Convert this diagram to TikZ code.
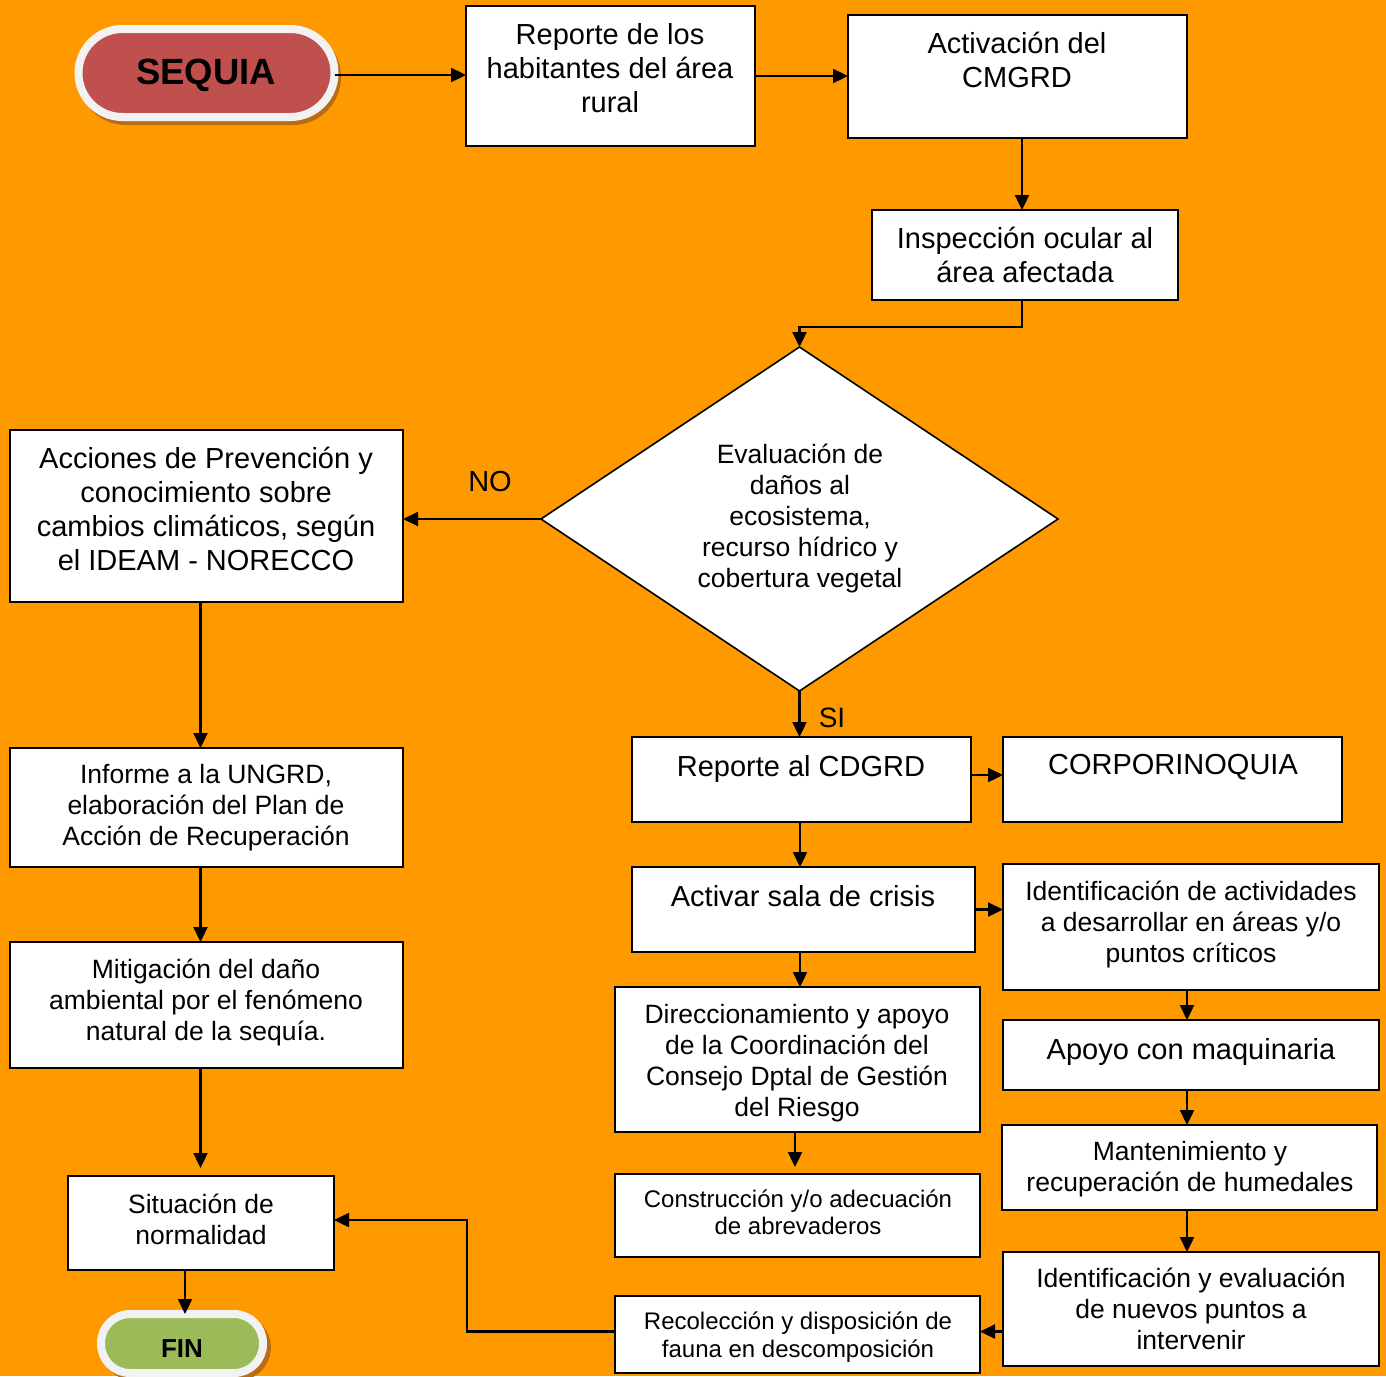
\documentclass[tikz,border=0pt]{standalone}
\usepackage{fontspec}
\setmainfont{Liberation Sans}
\usetikzlibrary{arrows.meta,calc,shapes.geometric}
\definecolor{bgor}{RGB}{255,153,0}
\definecolor{seqred}{RGB}{192,80,77}
\definecolor{fingreen}{RGB}{155,187,89}
\definecolor{termwhite}{RGB}{242,242,242}
\definecolor{shbrown}{RGB}{186,108,20}
\begin{document}
\begin{tikzpicture}[x=1pt,y=-1pt,
  box/.style={draw=black, fill=white, line width=1.6pt, inner sep=0pt, outer sep=0pt, anchor=north west},
  term/.style={draw=termwhite, line width=8pt, inner sep=0pt, outer sep=0pt},
  txtA/.style={font=\fontsize{29}{34}\selectfont, align=center, inner sep=0pt},
  txtB/.style={font=\fontsize{26.5}{31}\selectfont, align=center, inner sep=0pt},
  txtC/.style={font=\fontsize{24}{27.5}\selectfont, align=center, inner sep=0pt},
  arr/.style={line width=2.3pt, -{Triangle[length=15pt,width=14pt]}}]
\fill[bgor] (0,0) rectangle (1386,1376);
\useasboundingbox (0,0) rectangle (1386,1376);

% terminals
\fill[shbrown, rounded corners=48pt] (78,29) rectangle (341,125);
\node[term, fill=seqred, minimum width=256pt, minimum height=88pt, rounded corners=44pt] (seq) at (206.5,73) {};
\node[font=\bfseries\fontsize{36.5}{40}\selectfont, inner sep=0pt] (seqt) at (206,75.5) {SEQUIA};

\fill[shbrown, rounded corners=34pt] (101,1314) rectangle (271,1381);
\node[term, fill=fingreen, minimum width=162pt, minimum height=59pt, rounded corners=29pt] (fin) at (182,1343.5) {};
\node[font=\bfseries\fontsize{26}{30}\selectfont, inner sep=0pt] (fint) at (182,1348.5) {FIN};

% boxes
\node[box, minimum width=289pt, minimum height=140pt] (rep) at (466,6) {};
\node[box, minimum width=339pt, minimum height=123pt] (act) at (848,15) {};
\node[box, minimum width=306pt, minimum height=90pt] (ins) at (872,210) {};
\node[box, minimum width=393pt, minimum height=172pt] (acc) at (10,430) {};
\node[box, minimum width=393pt, minimum height=119pt] (inf) at (10,748) {};
\node[box, minimum width=393pt, minimum height=126pt] (mit) at (10,942) {};
\node[box, minimum width=266pt, minimum height=94pt] (sit) at (68,1176) {};
\node[box, minimum width=339pt, minimum height=85pt] (cdg) at (632,737) {};
\node[box, minimum width=339pt, minimum height=85pt] (cor) at (1003,737) {};
\node[box, minimum width=343pt, minimum height=85pt] (sal) at (632,867) {};
\node[box, minimum width=376pt, minimum height=126pt] (ida) at (1003,864) {};
\node[box, minimum width=365pt, minimum height=145pt] (dir) at (615,987) {};
\node[box, minimum width=376pt, minimum height=70pt] (apo) at (1003,1020) {};
\node[box, minimum width=365pt, minimum height=83pt] (con) at (615,1174) {};
\node[box, minimum width=375pt, minimum height=85pt] (man) at (1002,1125) {};
\node[box, minimum width=365pt, minimum height=77pt] (rec) at (615,1296) {};
\node[box, minimum width=376pt, minimum height=114pt] (ide) at (1003,1252) {};
\node[draw=black, fill=white, line width=1.6pt, diamond, inner sep=0pt, outer sep=0pt, minimum width=517pt, minimum height=344pt] (dia) at (799.5,519) {};

% texts
\node[txtA] (repT) at (610,68) {Reporte de los\\habitantes del área\\rural};
\node[txtA] (actT) at (1017,60) {Activación del\\CMGRD};
\node[txtA] (insT) at (1025,254.5) {Inspección ocular al\\área afectada};
\node[txtB] (diaT) at (800,518) {Evaluación de\\daños al\\ecosistema,\\recurso hídrico y\\cobertura vegetal};
\node[txtA] (accT) at (206,508.5) {Acciones de Prevención y\\conocimiento sobre\\cambios climáticos, según\\el IDEAM - NORECCO};
\node[txtB] (infT) at (206,808) {Informe a la UNGRD,\\elaboración del Plan de\\Acción de Recuperación};
\node[txtB] (mitT) at (206,1002) {Mitigación del daño\\ambiental por el fenómeno\\natural de la sequía.};
\node[txtB] (sitT) at (201,1219) {Situación de\\normalidad};
\node[txtA] (cdgT) at (801,769) {Reporte al CDGRD};
\node[txtA] (corT) at (1173,767) {CORPORINOQUIA};
\node[txtA] (salT) at (803,896) {Activar sala de crisis};
\node[txtB] (idaT) at (1191,924) {Identificación de actividades\\a desarrollar en áreas y/o\\puntos críticos};
\node[txtB] (dirT) at (797,1063) {Direccionamiento y apoyo\\de la Coordinación del\\Consejo Dptal de Gestión\\del Riesgo};
\node[txtA] (apoT) at (1191,1052) {Apoyo con maquinaria};
\node[txtC] (conT) at (798,1212.5) {Construcción y/o adecuación\\de abrevaderos};
\node[txtB] (manT) at (1190,1169) {Mantenimiento y\\recuperación de humedales};
\node[txtC] (recT) at (798,1337) {Recolección y disposición de\\fauna en descomposición};
\node[txtB] (ideT) at (1191,1309) {Identificación y evaluación\\de nuevos puntos a\\intervenir};
\node[txtA] (noL) at (490,482) {NO};
\node[font=\fontsize{28}{32}\selectfont, inner sep=0pt] (siL) at (832,718) {SI};

% connectors
\draw[arr] ([yshift=-2pt]seq.east) -- ([yshift=-2pt]seq.east -| rep.west);
\draw[arr] (rep.east) -- (rep.east -| act.west);
\draw[arr] ([xshift=4.5pt]act.south) -- ([xshift=-3pt]ins.north);
\draw[arr] ([xshift=-3pt]ins.south) -- ++(0,27) -| (dia.north);
\draw[arr] (dia.west) -- (dia.west -| acc.east);
\draw[arr] (dia.south) -- (dia.south |- cdg.north);
\draw[arr] ([yshift=4.5pt]cdg.east) -- ([yshift=4.5pt]cdg.east -| cor.west);
\draw[arr] ([xshift=-1.5pt]cdg.south) -- ([xshift=-3.5pt]sal.north);
\draw[arr] (sal.east) -- (sal.east -| ida.west);
\draw[arr] ([xshift=-3.5pt]sal.south) -- ([xshift=2.5pt]dir.north);
\draw[arr, shorten >=7pt] ([xshift=-2.5pt]dir.south) -- ([xshift=-2.5pt]con.north);
\draw[arr] ([xshift=-4pt]ida.south) -- ([xshift=-4pt]apo.north);
\draw[arr] ([xshift=-4pt]apo.south) -- ([xshift=-2.5pt]man.north);
\draw[arr] ([xshift=-2.5pt]man.south) -- ([xshift=-4pt]ide.north);
\draw[arr] ([yshift=3pt]rec.east -| ide.west) -- ([yshift=3pt]rec.east);
\draw[arr] ([yshift=3pt]rec.west) -- ++(-148,0) |- ([yshift=3pt]sit.east);
\draw[arr] ([xshift=-6pt]acc.south) -- ([xshift=-6pt]inf.north);
\draw[arr] ([xshift=-6pt]inf.south) -- ([xshift=-6pt]mit.north);
\draw[arr, shorten >=8pt] ([xshift=-6pt]mit.south) -- ([xshift=-6pt]mit.south |- sit.north);
\draw[arr] ([xshift=-16pt]sit.south) -- ([xshift=3pt]fin.north);
\end{tikzpicture}
\end{document}
